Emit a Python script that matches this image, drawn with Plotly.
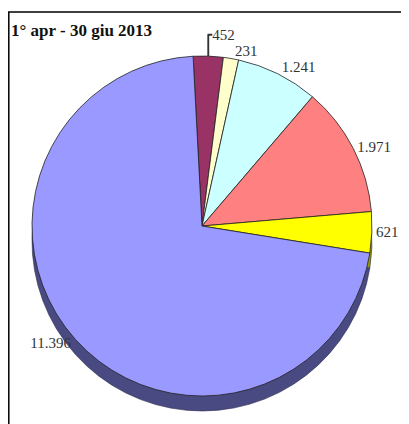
import plotly.graph_objects as go

# Dati: 1° apr - 30 giu 2013
values = [452, 231, 1241, 1971, 621, 11396]
labels = ["A", "B", "C", "D", "E", "F"]
colors = ["#993366", "#FFFFCC", "#CCFFFF", "#FF8080", "#FFFF00", "#9999FF"]
side_colors = ["#5c1f3d", "#99997a", "#7a9999", "#994d4d", "#999900", "#4a4a82"]

# the page body has an 8px margin, so the figure is a bit smaller than the window
W, H = 401, 416
cx, cy, r = 194, 218, 170
depth = 15

def dom(offset=0):
    return dict(x=[(cx - r) / W, (cx + r) / W],
                y=[(H - cy - offset - r) / H, (H - cy - offset + r) / H])

fig = go.Figure()

# "side" of the 3D pie, shifted down
fig.add_trace(go.Pie(
    values=values, labels=labels, sort=False, direction="clockwise",
    rotation=-3, domain=dom(depth), textinfo="none", hoverinfo="skip",
    marker=dict(colors=side_colors, line=dict(color="#2a2a50", width=0.6)),
    showlegend=False,
))

# top face
fig.add_trace(go.Pie(
    values=values, labels=labels, sort=False, direction="clockwise",
    rotation=-3, domain=dom(0),
    texttemplate="%{value:,}", textposition="outside",
    outsidetextfont=dict(family="Liberation Serif", size=15, color="#333333"),
    marker=dict(colors=colors, line=dict(color="#222222", width=0.8)),
    showlegend=False,
))

fig.update_layout(
    width=W, height=H,
    margin=dict(l=0, r=0, t=0, b=0),
    separators=",.",
    paper_bgcolor="white",
    annotations=[dict(
        text="<b>1° apr - 30 giu 2013</b>", xref="paper", yref="paper",
        x=1 / W, y=(H - 22) / H, xanchor="left", yanchor="middle",
        showarrow=False,
        font=dict(family="Liberation Serif", size=17, color="#111111"),
    )],
    shapes=[dict(
        type="rect", xref="paper", yref="paper",
        x0=0.8 / W, x1=1.05, y0=-0.05, y1=(H - 4) / H,
        line=dict(color="black", width=1.5),
    )],
)

fig.write_html("out.html")
